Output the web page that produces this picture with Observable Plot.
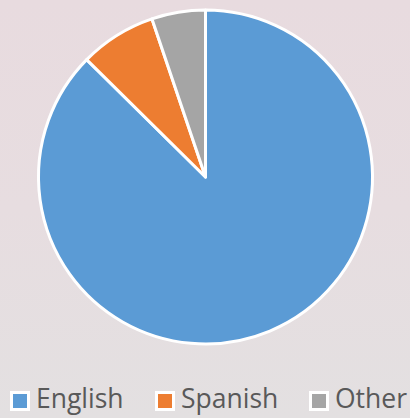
<!DOCTYPE html>
<html>
<head>
<meta charset="utf-8">
<script src="https://cdn.jsdelivr.net/npm/d3@7"></script>
<script src="https://cdn.jsdelivr.net/npm/@observablehq/plot@0.6"></script>
<style>
  html, body { margin: 0; padding: 0; }
  body {
    width: 410px; height: 418px; overflow: hidden; position: relative;
    background: linear-gradient(180deg, #e8dbdf 0%, #e7dde0 50%, #e3e0e1 100%);
    font-family: "Open Sans", sans-serif;
  }
  #chart { position: absolute; left: 0; top: 0; }
  #legend { position: absolute; left: 0; top: 385px; width: 410px; height: 28px; }
  .item { position: absolute; top: 0; height: 27px; display: flex; align-items: center; white-space: nowrap; }
  .sw { width: 14px; height: 14px; border: 3.5px solid #ffffff; margin-right: 6px; margin-top: 5px; }
  .lab { display: inline-block; height: 27px; font-size: 26.5px; color: #595959; line-height: 27px; overflow: visible; }
</style>
</head>
<body>
<div id="chart"></div>
<div id="legend"></div>
<script>
const categories = ["English", "Spanish", "Other"];
const values = [87.4, 7.4, 5.2];
const colors = ["#5b9bd5", "#ed7d31", "#a5a5a5"];

const data = categories.map((c, i) => ({category: c, value: values[i]}));
const arcs = d3.pie().sort(null).value(d => d.value)(data);

const pieMark = (index, scales) => {
  const x = scales.x, y = scales.y;
  const cx = x(0), cy = y(0), r = x(1) - x(0);
  const arc = d3.arc().innerRadius(0).outerRadius(r);
  const g = d3.create("svg:g").attr("transform", `translate(${cx},${cy})`);
  g.selectAll("path").data(arcs).join("path")
    .attr("d", arc)
    .attr("fill", d => scales.color ? scales.color(d.data.category) : colors[d.index])
    .attr("stroke", "#ffffff")
    .attr("stroke-width", 3)
    .attr("stroke-linejoin", "round");
  return g.node();
};

const plot = Plot.plot({
  width: 410,
  height: 360,
  margin: 0,
  style: {background: "transparent", overflow: "visible"},
  x: {domain: [-1, 1], range: [38.5, 372.5], axis: null},
  y: {domain: [-1, 1], range: [344, 10], axis: null},
  color: {domain: categories, range: colors},
  marks: [
    Plot.dot(categories, {x: 0, y: 0, r: 0, fill: d => d}),
    pieMark
  ]
});
document.getElementById("chart").appendChild(plot);

const legendX = [10, 155, 309];
const legend = document.getElementById("legend");
categories.forEach((c, i) => {
  const item = document.createElement("div");
  item.className = "item";
  item.style.left = legendX[i] + "px";
  const sw = document.createElement("div");
  sw.className = "sw";
  sw.style.background = colors[i];
  const lab = document.createElement("span");
  lab.className = "lab";
  lab.textContent = c;
  item.appendChild(sw);
  item.appendChild(lab);
  legend.appendChild(item);
});
</script>
</body>
</html>
